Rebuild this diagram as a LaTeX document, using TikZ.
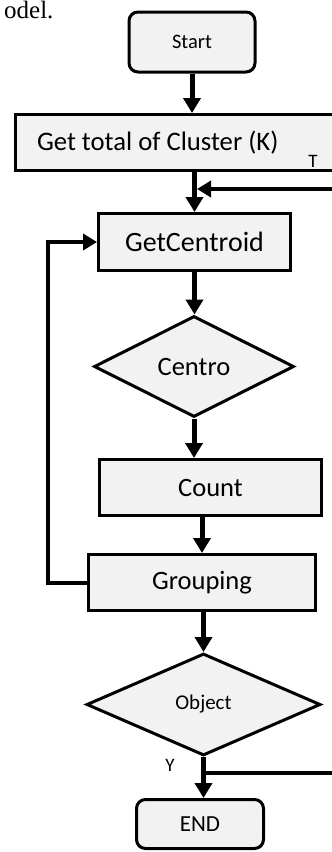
\documentclass[tikz,border=0pt]{standalone}
\usepackage{fontspec}
\setmainfont{Carlito}
\newfontfamily\pagefont{Liberation Serif}
\usetikzlibrary{shapes.geometric, arrows.meta}
\definecolor{boxgray}{HTML}{F2F2F2}

\begin{document}
\begin{tikzpicture}[x=1pt,y=-1pt,
    pb/.style={rectangle,draw,line width=3pt,fill=boxgray,inner sep=0pt,font=\fontsize{26.5}{30}\selectfont},
    rb/.style={pb,rounded corners=9pt},
    dc/.style={diamond,draw,line width=3pt,fill=boxgray,inner sep=0pt,font=\fontsize{26.5}{30}\selectfont},
    fl/.style={line width=5pt,-{Triangle[length=15pt,width=17pt]}},
    lp/.style={line width=4pt,-{Triangle[length=14pt,width=16pt]}}]
            \useasboundingbox (0,0) rectangle (332,852);
            \node[anchor=base west, inner sep=0pt, font={\pagefont\fontsize{25}{28}\selectfont}](cap) at (4,18.5) {odel.};

            \node[rb, minimum width=126, minimum height=60, font=\fontsize{20.5}{24}\selectfont](st) at (192,42) {Start};
            \node[pb, minimum width=329, minimum height=56, text width=286, align=flush left, font=\fontsize{26.7}{30}\selectfont](gt) at (180,142.5) {Get total of Cluster (K)};
            \node[font=\fontsize{19}{22}\selectfont](t) at (313,161) {T};
            \node[pb, minimum width=192, minimum height=57, font=\fontsize{28}{32}\selectfont](gc) at (194.5,242) {GetCentroid};
            \node[dc, minimum width=200, minimum height=101](cd) at (194,366.5) {Centro};
            \node[pb, minimum width=222, minimum height=56](ct) at (210.5,487.5) {Count};
            \node[pb, minimum width=227, minimum height=56](gp) at (202,582.5) {Grouping};
            \node[dc, minimum width=234, minimum height=102, font=\fontsize{21}{24}\selectfont](ob) at (203.5,704.5) {\raisebox{4pt}{Object}};
            \node[font=\fontsize{19}{22}\selectfont](y) at (170,765) {Y};
            \node[rb, minimum width=127, minimum height=49, font=\fontsize{23}{26}\selectfont](en) at (200,824) {END};

            \coordinate (rt) at (333,189);
            \coordinate (rb) at (333,773);

            \draw[fl] (st.south) -- (st.south |- gt.north);
            \draw[fl] (gc.north |- gt.south) -- (gc.north);
            \draw[fl] (gc.south) -- (gc.south |- cd.north);
            \draw[fl] (cd.south) -- (cd.south |- ct.north);
            \draw[fl] (gp.north |- ct.south) -- (gp.north);
            \draw[fl] (ob.north |- gp.south) -- (ob.north);
            \draw[fl] (ob.south) -- (ob.south |- en.north);

            % back to GetCentroid
            \draw[lp] (gp.west) -- ++(-39,0) |- (gc.west);
            \draw[lp, shorten >=2.5pt] (rt) -- (gc.north |- rt);
            \draw[line width=4pt] (ob.south |- rb) -- (rb);
\end{tikzpicture}
\end{document}
